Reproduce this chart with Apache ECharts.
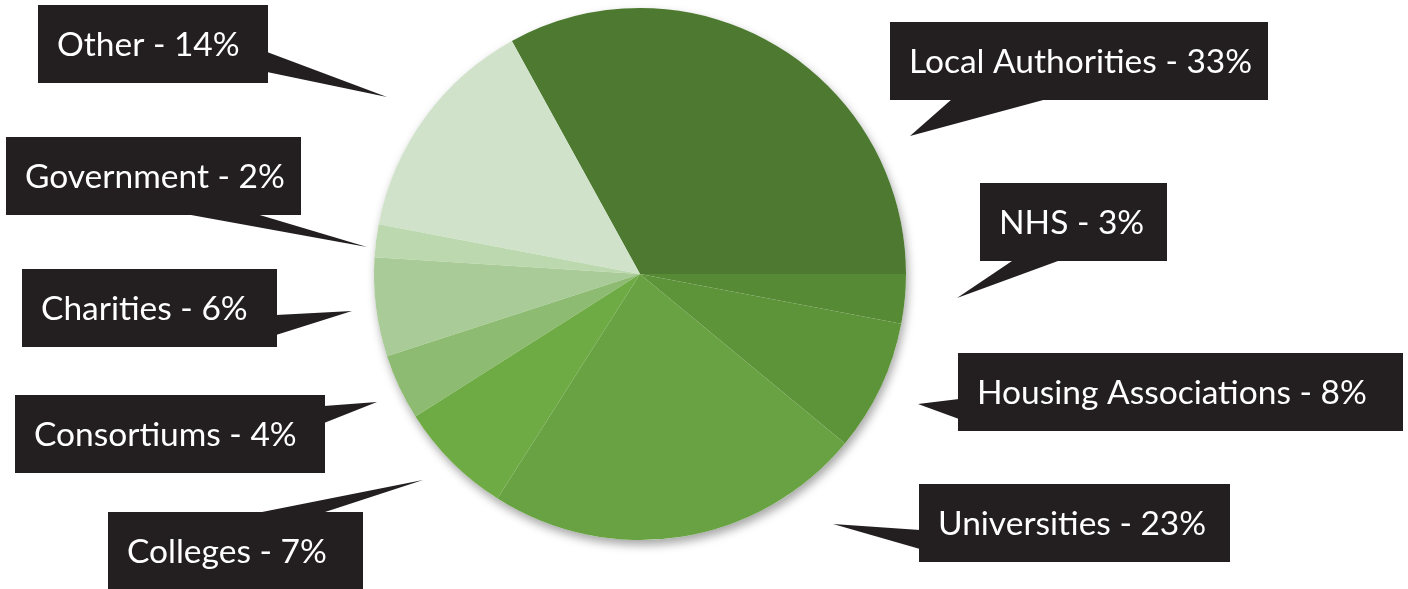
<!DOCTYPE html>
<html>
<head>
<meta charset="utf-8">
<script src="https://cdn.jsdelivr.net/npm/echarts@6/dist/echarts.min.js"></script>
<style>
  html, body { margin: 0; padding: 0; background: #ffffff; }
  #chart { width: 1408px; height: 589px; }
</style>
</head>
<body>
<div id="chart"></div>
<script>
// ---- data ----
const categories = ['Local Authorities', 'Other', 'Government', 'Charities', 'Consortiums', 'Colleges', 'Universities', 'Housing Associations', 'NHS'];
const shares = [33, 14, 2, 6, 4, 7, 23, 8, 3];

// ---- styles ----
const sliceColors = ['#4d7a30', '#d1e2ca', '#bcd8ae', '#a9cb97', '#8dbb72', '#6fab45', '#68a242', '#5e9439', '#578a35'];

// ---- label box layout: [left, top, width] ----
const labelBoxes = [
  [890, 22, 378],   // Local Authorities
  [38, 5, 230],     // Other
  [6, 137, 295],    // Government
  [22, 269, 255],   // Charities
  [15, 395, 310],   // Consortiums
  [108, 512, 255],  // Colleges
  [919, 484, 311],  // Universities
  [958, 353, 445],  // Housing Associations
  [980, 183, 187]   // NHS
];
// ---- callout wedges: [base1, base2, tip] ----
const wedges = [
  [[952, 99], [1047, 99], [910, 136]],
  [[267, 52], [267, 72], [387, 97]],
  [[180, 213], [253, 213], [367, 247]],
  [[276, 315], [276, 335], [352, 311]],
  [[324, 406], [324, 423], [377, 402]],
  [[257, 513], [322, 513], [423, 480]],
  [[920, 530], [920, 549], [833, 524]],
  [[959, 399], [959, 419], [918, 404]],
  [[1012, 261], [1058, 261], [957, 298]]
];

const chart = echarts.init(document.getElementById('chart'), null, { renderer: 'canvas' });
const FONT = 'Lato, "Open Sans", sans-serif';
const PADL = 19;

const data = categories.map((name, i) => ({
  name: name,
  value: shares[i],
  itemStyle: { color: sliceColors[i] },
  label: { width: labelBoxes[i][2] - PADL }
}));

const option = {
  backgroundColor: '#ffffff',
  animation: false,
  graphic: wedges.map(w => ({
    type: 'polygon',
    z: 5,
    shape: { points: w },
    style: { fill: '#231f20' }
  })),
  series: [
    {
      // soft drop shadow beneath the pie
      type: 'pie',
      silent: true,
      z: 1,
      center: [640, 274],
      radius: 266,
      label: { show: false },
      labelLine: { show: false },
      itemStyle: {
        color: '#ffffff',
        shadowBlur: 10,
        shadowColor: 'rgba(0,0,0,0.35)',
        shadowOffsetX: 2,
        shadowOffsetY: 5
      },
      data: [{ value: 1, name: '' }]
    },
    {
      type: 'pie',
      z: 2,
      center: [640, 274],
      radius: 266,
      startAngle: 0,
      clockwise: false,
      avoidLabelOverlap: false,
      itemStyle: { borderWidth: 0 },
      emphasis: { disabled: true },
      label: {
        show: true,
        position: 'outside',
        formatter: '{b} - {c}%',
        color: '#ffffff',
        fontFamily: FONT,
        fontSize: 33.5,
        lineHeight: 36,
        align: 'left',
        backgroundColor: '#231f20',
        padding: [22, 0, 20, PADL]
      },
      labelLine: { show: false },
      labelLayout: function (params) {
        const b = labelBoxes[params.dataIndex];
        return { x: b[0], y: b[1], align: 'left', verticalAlign: 'top', hideOverlap: false, moveOverlap: null };
      },
      data: data
    }
  ]
};
chart.setOption(option);
</script>
</body>
</html>
